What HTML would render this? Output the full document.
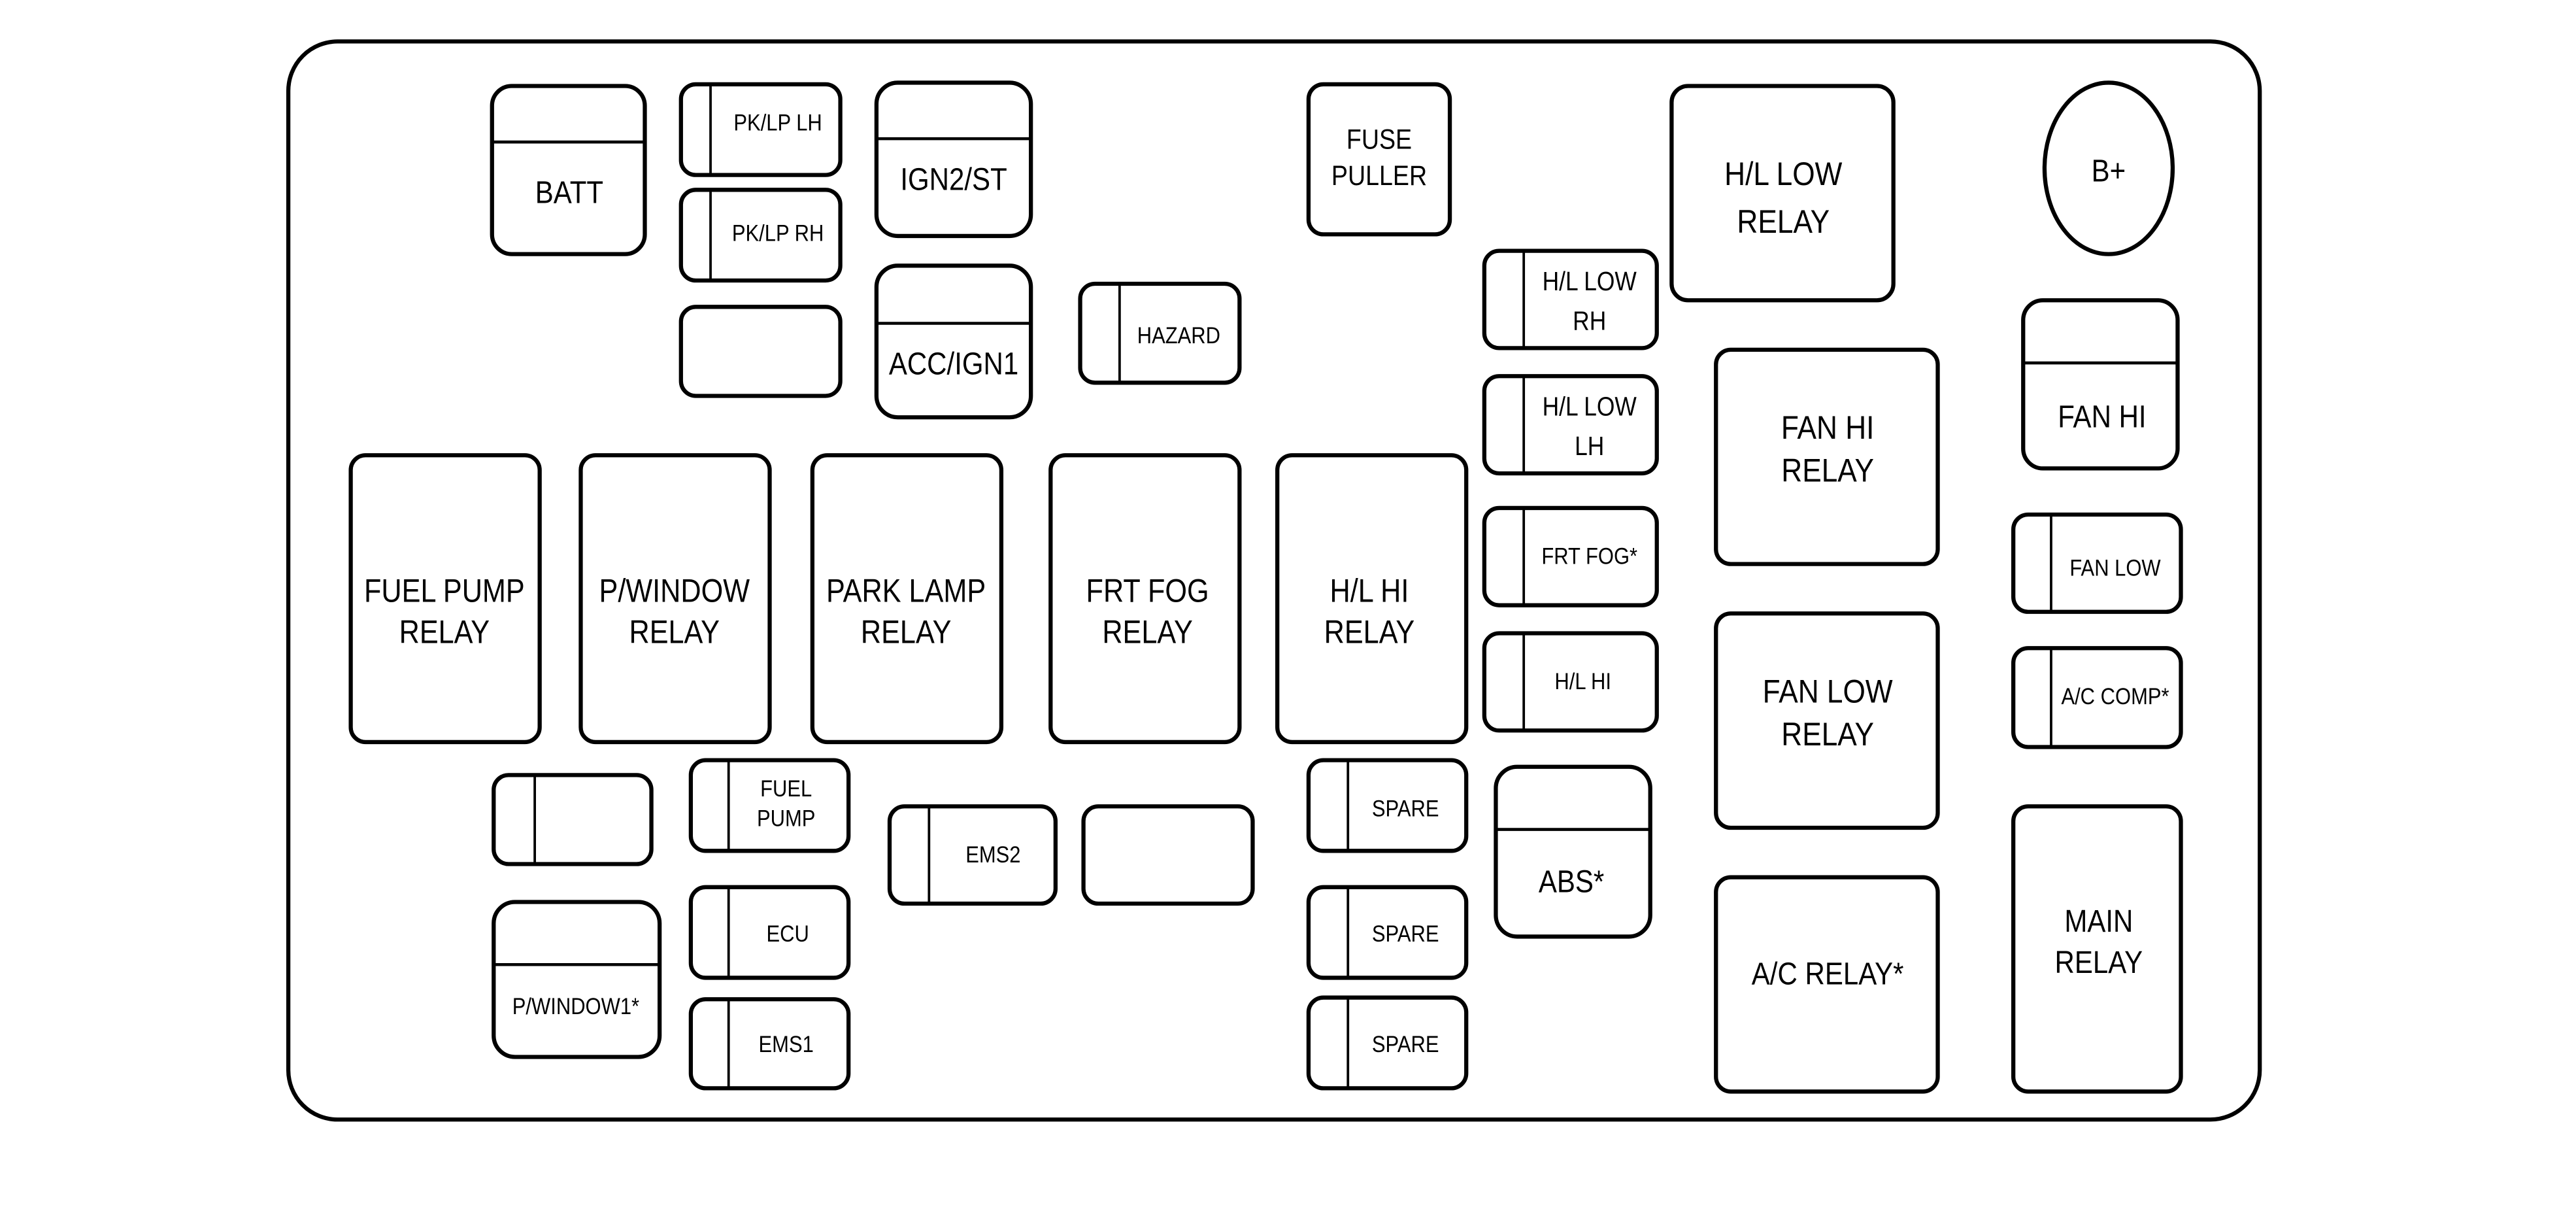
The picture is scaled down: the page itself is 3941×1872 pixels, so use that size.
<!DOCTYPE html>
<html><head><meta charset="utf-8"><style>
html,body{margin:0;padding:0;background:#fff;}
svg{display:block;}
text{font-family:"Liberation Sans",sans-serif;fill:#000;text-anchor:middle;}
</style></head><body>
<svg width="3941" height="1872" viewBox="0.5 1.85 1568 742.5" preserveAspectRatio="none" xmlns="http://www.w3.org/2000/svg">
<g fill="none" stroke="#000" stroke-width="2.5">
<rect x="176" y="27" width="1200" height="654" rx="30"/>
<rect x="300" y="54" width="93" height="102" rx="12"/><line x1="300" y1="88" x2="393" y2="88" stroke-width="1.8"/>
<rect x="415" y="53" width="97" height="55" rx="9"/><line x1="433" y1="53" x2="433" y2="108" stroke-width="1.5"/>
<rect x="415" y="117" width="97" height="55" rx="9"/><line x1="433" y1="117" x2="433" y2="172" stroke-width="1.5"/>
<rect x="415" y="188" width="97" height="54" rx="9"/>
<rect x="534" y="52" width="94" height="93" rx="13"/><line x1="534" y1="86" x2="628" y2="86" stroke-width="1.8"/>
<rect x="534" y="163" width="94" height="92" rx="13"/><line x1="534" y1="198" x2="628" y2="198" stroke-width="1.8"/>
<rect x="658" y="174" width="97" height="60" rx="9"/><line x1="682" y1="174" x2="682" y2="234" stroke-width="1.5"/>
<rect x="797" y="53" width="86" height="91" rx="9"/>
<rect x="1018" y="54" width="135" height="130" rx="10"/>
<ellipse cx="1284" cy="104" rx="39" ry="52"/>
<rect x="904" y="154" width="105" height="59" rx="9"/><line x1="928" y1="154" x2="928" y2="213" stroke-width="1.5"/>
<rect x="904" y="230" width="105" height="59" rx="9"/><line x1="928" y1="230" x2="928" y2="289" stroke-width="1.5"/>
<rect x="904" y="310" width="105" height="59" rx="9"/><line x1="928" y1="310" x2="928" y2="369" stroke-width="1.5"/>
<rect x="904" y="386" width="105" height="59" rx="9"/><line x1="928" y1="386" x2="928" y2="445" stroke-width="1.5"/>
<rect x="1045" y="214" width="135" height="130" rx="9"/>
<rect x="1045" y="374" width="135" height="130" rx="9"/>
<rect x="1045" y="534" width="135" height="130" rx="9"/>
<rect x="1232" y="184" width="94" height="102" rx="12"/><line x1="1232" y1="222" x2="1326" y2="222" stroke-width="1.8"/>
<rect x="1226" y="314" width="102" height="59" rx="9"/><line x1="1249" y1="314" x2="1249" y2="373" stroke-width="1.5"/>
<rect x="1226" y="395" width="102" height="60" rx="9"/><line x1="1249" y1="395" x2="1249" y2="455" stroke-width="1.5"/>
<rect x="1226" y="491" width="102" height="173" rx="9"/>
<rect x="214" y="278" width="115" height="174" rx="9"/>
<rect x="354" y="278" width="115" height="174" rx="9"/>
<rect x="495" y="278" width="115" height="174" rx="9"/>
<rect x="640" y="278" width="115" height="174" rx="9"/>
<rect x="778" y="278" width="115" height="174" rx="9"/>
<rect x="301" y="472" width="96" height="54" rx="9"/><line x1="326" y1="472" x2="326" y2="526" stroke-width="1.5"/>
<rect x="421" y="463" width="96" height="55" rx="9"/><line x1="444" y1="463" x2="444" y2="518" stroke-width="1.5"/>
<rect x="421" y="540" width="96" height="55" rx="9"/><line x1="444" y1="540" x2="444" y2="595" stroke-width="1.5"/>
<rect x="421" y="608" width="96" height="54" rx="9"/><line x1="444" y1="608" x2="444" y2="662" stroke-width="1.5"/>
<rect x="542" y="491" width="101" height="59" rx="9"/><line x1="566" y1="491" x2="566" y2="550" stroke-width="1.5"/>
<rect x="660" y="491" width="103" height="59" rx="9"/>
<rect x="797" y="463" width="96" height="55" rx="9"/><line x1="821" y1="463" x2="821" y2="518" stroke-width="1.5"/>
<rect x="797" y="540" width="96" height="55" rx="9"/><line x1="821" y1="540" x2="821" y2="595" stroke-width="1.5"/>
<rect x="797" y="607" width="96" height="55" rx="9"/><line x1="821" y1="607" x2="821" y2="662" stroke-width="1.5"/>
<rect x="911" y="467" width="94" height="103" rx="13"/><line x1="911" y1="505" x2="1005" y2="505" stroke-width="1.8"/>
<rect x="301" y="549" width="101" height="94" rx="13"/><line x1="301" y1="587" x2="402" y2="587" stroke-width="1.8"/>
</g>
<g font-size="19">
<text transform="translate(347 125) scale(.88 1)">BATT</text>
<text transform="translate(581 117) scale(.88 1)">IGN2/ST</text>
<text transform="translate(581 229) scale(.88 1)">ACC/IGN1</text>
<text font-size="17" transform="translate(840 92) scale(.88 1)">FUSE</text>
<text font-size="17" transform="translate(840 114) scale(.88 1)">PULLER</text>
<text font-size="20" transform="translate(1086 114) scale(.88 1)">H/L LOW</text>
<text font-size="20" transform="translate(1086 143) scale(.88 1)">RELAY</text>
<text transform="translate(1284 112) scale(.88 1)">B+</text>
<text font-size="20" transform="translate(1113 268) scale(.88 1)">FAN HI</text>
<text font-size="20" transform="translate(1113 294) scale(.88 1)">RELAY</text>
<text font-size="20" transform="translate(1113 428) scale(.88 1)">FAN LOW</text>
<text font-size="20" transform="translate(1113 454) scale(.88 1)">RELAY</text>
<text transform="translate(1113 599) scale(.88 1)">A/C RELAY*</text>
<text transform="translate(1280 261) scale(.88 1)">FAN HI</text>
<text transform="translate(1278 567) scale(.88 1)">MAIN</text>
<text transform="translate(1278 592) scale(.88 1)">RELAY</text>
<text font-size="20" transform="translate(271 367) scale(.86 1)">FUEL PUMP</text>
<text font-size="20" transform="translate(271 392) scale(.86 1)">RELAY</text>
<text font-size="20" transform="translate(411 367) scale(.86 1)">P/WINDOW</text>
<text font-size="20" transform="translate(411 392) scale(.86 1)">RELAY</text>
<text font-size="20" transform="translate(552 367) scale(.86 1)">PARK LAMP</text>
<text font-size="20" transform="translate(552 392) scale(.86 1)">RELAY</text>
<text font-size="20" transform="translate(699 367) scale(.86 1)">FRT FOG</text>
<text font-size="20" transform="translate(699 392) scale(.86 1)">RELAY</text>
<text font-size="20" transform="translate(834 367) scale(.86 1)">H/L HI</text>
<text font-size="20" transform="translate(834 392) scale(.86 1)">RELAY</text>
<text transform="translate(957 543) scale(.88 1)">ABS*</text>
</g>
<g font-size="16">
<text transform="translate(968 178) scale(.88 1)">H/L LOW</text>
<text transform="translate(968 202) scale(.88 1)">RH</text>
<text transform="translate(968 254) scale(.88 1)">H/L LOW</text>
<text transform="translate(968 278) scale(.88 1)">LH</text>
</g>
<g font-size="14">
<text transform="translate(474 81) scale(.88 1)">PK/LP LH</text>
<text transform="translate(474 148) scale(.88 1)">PK/LP RH</text>
<text transform="translate(718 210) scale(.88 1)">HAZARD</text>
<text transform="translate(968 344) scale(.88 1)">FRT FOG*</text>
<text transform="translate(964 420) scale(.88 1)">H/L HI</text>
<text transform="translate(1288 351) scale(.88 1)">FAN LOW</text>
<text transform="translate(1288 429) scale(.88 1)">A/C COMP*</text>
<text transform="translate(479 485) scale(.88 1)">FUEL</text>
<text transform="translate(479 503) scale(.88 1)">PUMP</text>
<text transform="translate(480 573) scale(.88 1)">ECU</text>
<text transform="translate(479 640) scale(.88 1)">EMS1</text>
<text transform="translate(605 525) scale(.88 1)">EMS2</text>
<text transform="translate(856 497) scale(.88 1)">SPARE</text>
<text transform="translate(856 573) scale(.88 1)">SPARE</text>
<text transform="translate(856 640) scale(.88 1)">SPARE</text>
<text transform="translate(351 617) scale(.88 1)">P/WINDOW1*</text>
</g>
</svg>
</body></html>
